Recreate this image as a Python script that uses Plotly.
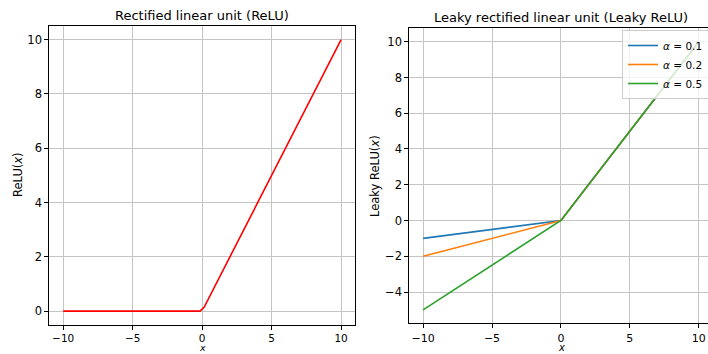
import plotly.graph_objects as go

W, H = 708, 354

# ReLU curve
relu_x = [-10, -0.15, 0.15, 10]
relu_y = [0, 0, 0.15, 10]

# Leaky ReLU curves, one per slope
leaky_x = [-10, 0, 10]
alphas = ["0.1", "0.2", "0.5"]
leaky_y = {
    "0.1": [-1.0, 0, 10],
    "0.2": [-2.0, 0, 10],
    "0.5": [-5.0, 0, 10],
}
leaky_colors = {"0.1": "#1f77b4", "0.2": "#ff7f0e", "0.5": "#2ca02c"}

ticks_x = [-10, -5, 0, 5, 10]
ticks_y_left = [0, 2, 4, 6, 8, 10]
ticks_y_right = [-4, -2, 0, 2, 4, 6, 8, 10]

FONT = "DejaVu Sans"


def px_x(p):
    return p / W


def px_y(p):
    return 1 - p / H


fig = go.Figure()

fig.add_trace(go.Scatter(x=relu_x, y=relu_y, mode="lines",
                         line=dict(color="#ff0000", width=1.6),
                         xaxis="x", yaxis="y", showlegend=False))

for a in alphas:
    fig.add_trace(go.Scatter(x=leaky_x, y=leaky_y[a], mode="lines",
                             line=dict(color=leaky_colors[a], width=1.6),
                             name=f"<i>α</i> = {a}",
                             xaxis="x2", yaxis="y2"))

axis_common = dict(
    showgrid=True, gridcolor="#c4c4c4", gridwidth=1,
    zeroline=False, showline=True, linecolor="black", linewidth=1,
    ticks="outside", ticklen=4, tickcolor="black", tickwidth=1,
    tickfont=dict(family=FONT, size=11.5, color="black"),
    automargin=False,
)
x_tickfont = dict(family=FONT, size=11, color="black")

fig.update_layout(
    width=W, height=H,
    margin=dict(l=0, r=0, t=0, b=0, autoexpand=False),
    paper_bgcolor="white", plot_bgcolor="white",
    font=dict(family=FONT, color="black"),
    xaxis=dict(axis_common, domain=[px_x(49.3), px_x(355)], range=[-11, 11],
               tickvals=ticks_x, mirror=True, anchor="y",
               tickfont=dict(family=FONT, size=10.5, color="black")),
    yaxis=dict(axis_common, domain=[px_y(324.7), px_y(26)], range=[-0.5, 10.5],
               tickvals=ticks_y_left, mirror=True, anchor="x"),
    xaxis2=dict(axis_common, domain=[px_x(409.3), 1.0], range=[-11, 10.67],
                tickvals=ticks_x, mirror=True, anchor="y2", tickfont=x_tickfont),
    yaxis2=dict(axis_common, domain=[px_y(323.3), px_y(28.3)], range=[-5.75, 10.75],
                tickvals=ticks_y_right, mirror=False, anchor="x2"),
    legend=dict(
        x=px_x(622), y=px_y(30), xanchor="left", yanchor="top",
        bgcolor="rgba(255,255,255,0.8)", bordercolor="#cccccc", borderwidth=1,
        font=dict(family=FONT, size=10.5, color="black"),
        itemwidth=30, tracegroupgap=0,
    ),
    annotations=[
        dict(text="Rectified linear unit (ReLU)", x=px_x(202), y=px_y(15),
             xref="paper", yref="paper", showarrow=False,
             font=dict(family=FONT, size=13), xanchor="center", yanchor="middle"),
        dict(text="Leaky rectified linear unit (Leaky ReLU)", x=px_x(561), y=px_y(17.3),
             xref="paper", yref="paper", showarrow=False,
             font=dict(family=FONT, size=13), xanchor="center", yanchor="middle"),
        dict(text="ReLU(<i>x</i>)", x=px_x(18), y=px_y(175),
             xref="paper", yref="paper", showarrow=False, textangle=-90,
             font=dict(family=FONT, size=11.5), xanchor="center", yanchor="middle"),
        dict(text="Leaky ReLU(<i>x</i>)", x=px_x(375), y=px_y(176),
             xref="paper", yref="paper", showarrow=False, textangle=-90,
             font=dict(family=FONT, size=11.5), xanchor="center", yanchor="middle"),
        dict(text="<i>x</i>", x=px_x(202), y=0,
             xref="paper", yref="paper", showarrow=False,
             font=dict(family=FONT, size=9.5), xanchor="center", yanchor="bottom",
             borderpad=0),
        dict(text="<i>x</i>", x=px_x(561), y=0,
             xref="paper", yref="paper", showarrow=False,
             font=dict(family=FONT, size=10), xanchor="center", yanchor="bottom",
             borderpad=0),
    ],
)

fig.write_html("out.html")
